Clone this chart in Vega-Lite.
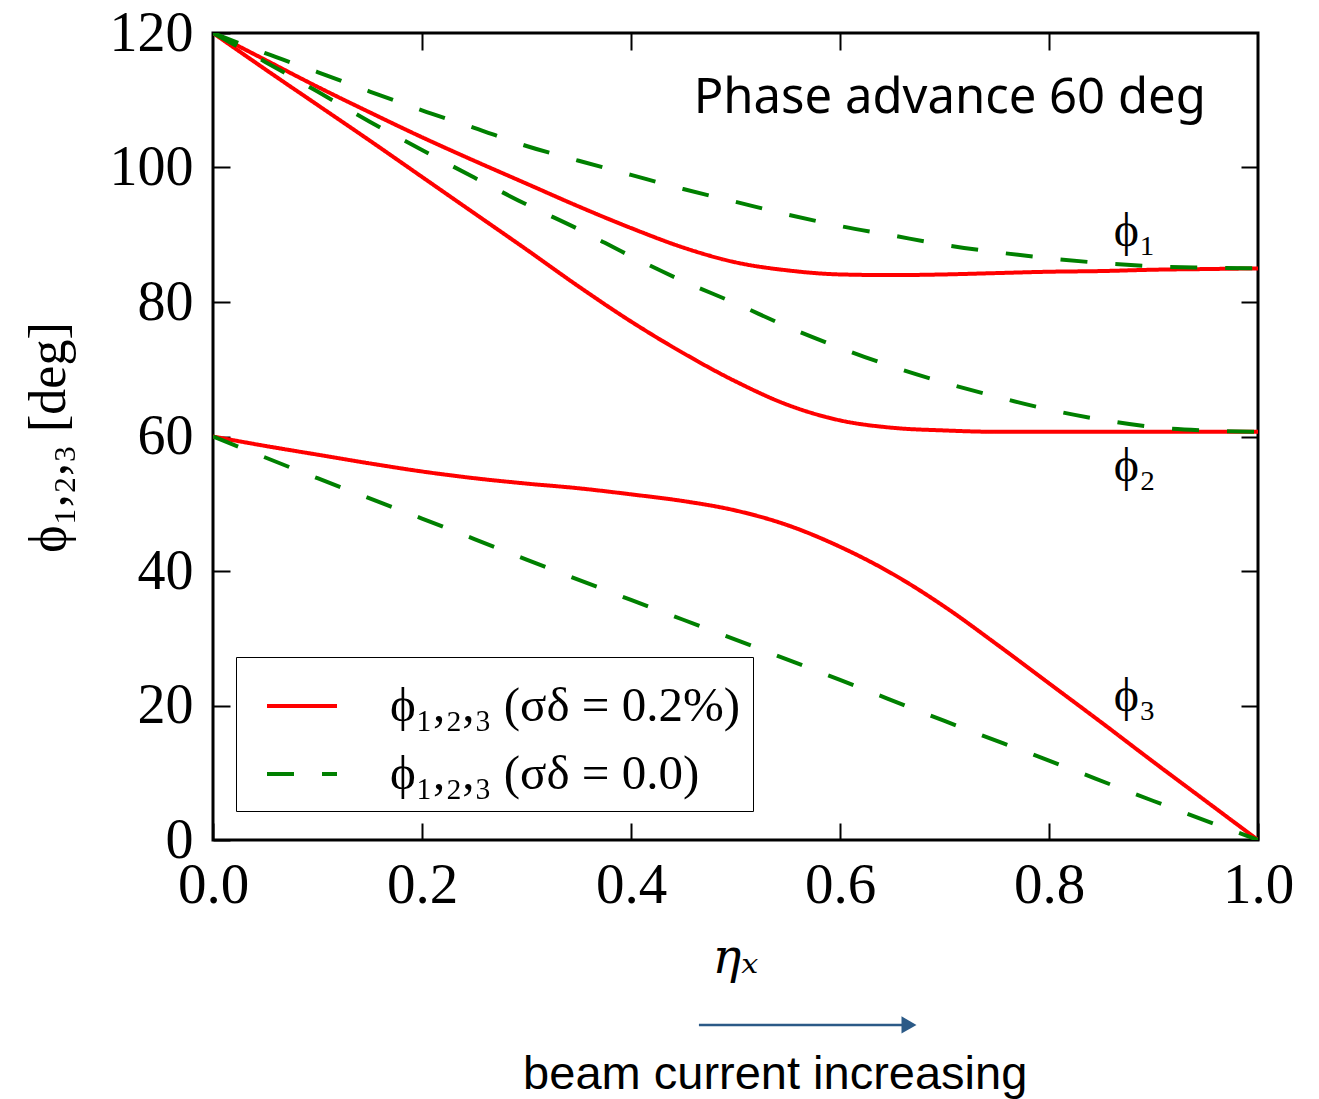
{
  "$schema": "https://vega.github.io/schema/vega-lite/v6.json",
  "width": 1045,
  "height": 807,
  "autosize": {"type": "none"},
  "padding": {"left": 213, "top": 33, "right": 61, "bottom": 259},
  "background": "white",
  "config": {
    "view": {"stroke": "black", "strokeWidth": 3},
    "axis": {"domain": false, "grid": false, "tickColor": "black", "tickWidth": 2, "tickSize": -17, "labelColor": "black", "titleColor": "black", "labelFlush": false, "labelOverlap": false, "labelBound": false}
  },
  "layer": [
    {
      "data": {"values": [
        {"eta": 0.0, "phi": 120, "curve": "r1", "series": "ϕ₁,₂,₃ (σδ = 0.2%)"},
        {"eta": 0.05, "phi": 116.0, "curve": "r1", "series": "ϕ₁,₂,₃ (σδ = 0.2%)"},
        {"eta": 0.1, "phi": 112.0, "curve": "r1", "series": "ϕ₁,₂,₃ (σδ = 0.2%)"},
        {"eta": 0.15, "phi": 108.2, "curve": "r1", "series": "ϕ₁,₂,₃ (σδ = 0.2%)"},
        {"eta": 0.2, "phi": 104.5, "curve": "r1", "series": "ϕ₁,₂,₃ (σδ = 0.2%)"},
        {"eta": 0.25, "phi": 101.0, "curve": "r1", "series": "ϕ₁,₂,₃ (σδ = 0.2%)"},
        {"eta": 0.3, "phi": 97.6, "curve": "r1", "series": "ϕ₁,₂,₃ (σδ = 0.2%)"},
        {"eta": 0.35, "phi": 94.2, "curve": "r1", "series": "ϕ₁,₂,₃ (σδ = 0.2%)"},
        {"eta": 0.4, "phi": 91.0, "curve": "r1", "series": "ϕ₁,₂,₃ (σδ = 0.2%)"},
        {"eta": 0.45, "phi": 88.1, "curve": "r1", "series": "ϕ₁,₂,₃ (σδ = 0.2%)"},
        {"eta": 0.5, "phi": 85.9, "curve": "r1", "series": "ϕ₁,₂,₃ (σδ = 0.2%)"},
        {"eta": 0.55, "phi": 84.7, "curve": "r1", "series": "ϕ₁,₂,₃ (σδ = 0.2%)"},
        {"eta": 0.6, "phi": 84.1, "curve": "r1", "series": "ϕ₁,₂,₃ (σδ = 0.2%)"},
        {"eta": 0.65, "phi": 84.0, "curve": "r1", "series": "ϕ₁,₂,₃ (σδ = 0.2%)"},
        {"eta": 0.7, "phi": 84.1, "curve": "r1", "series": "ϕ₁,₂,₃ (σδ = 0.2%)"},
        {"eta": 0.75, "phi": 84.3, "curve": "r1", "series": "ϕ₁,₂,₃ (σδ = 0.2%)"},
        {"eta": 0.8, "phi": 84.5, "curve": "r1", "series": "ϕ₁,₂,₃ (σδ = 0.2%)"},
        {"eta": 0.85, "phi": 84.6, "curve": "r1", "series": "ϕ₁,₂,₃ (σδ = 0.2%)"},
        {"eta": 0.9, "phi": 84.8, "curve": "r1", "series": "ϕ₁,₂,₃ (σδ = 0.2%)"},
        {"eta": 0.95, "phi": 84.9, "curve": "r1", "series": "ϕ₁,₂,₃ (σδ = 0.2%)"},
        {"eta": 1.0, "phi": 85.0, "curve": "r1", "series": "ϕ₁,₂,₃ (σδ = 0.2%)"},

        {"eta": 0.0, "phi": 120, "curve": "r2", "series": "ϕ₁,₂,₃ (σδ = 0.2%)"},
        {"eta": 0.05, "phi": 114.6, "curve": "r2", "series": "ϕ₁,₂,₃ (σδ = 0.2%)"},
        {"eta": 0.1, "phi": 109.3, "curve": "r2", "series": "ϕ₁,₂,₃ (σδ = 0.2%)"},
        {"eta": 0.15, "phi": 104.0, "curve": "r2", "series": "ϕ₁,₂,₃ (σδ = 0.2%)"},
        {"eta": 0.2, "phi": 98.6, "curve": "r2", "series": "ϕ₁,₂,₃ (σδ = 0.2%)"},
        {"eta": 0.25, "phi": 93.2, "curve": "r2", "series": "ϕ₁,₂,₃ (σδ = 0.2%)"},
        {"eta": 0.3, "phi": 87.8, "curve": "r2", "series": "ϕ₁,₂,₃ (σδ = 0.2%)"},
        {"eta": 0.35, "phi": 82.3, "curve": "r2", "series": "ϕ₁,₂,₃ (σδ = 0.2%)"},
        {"eta": 0.4, "phi": 77.1, "curve": "r2", "series": "ϕ₁,₂,₃ (σδ = 0.2%)"},
        {"eta": 0.45, "phi": 72.4, "curve": "r2", "series": "ϕ₁,₂,₃ (σδ = 0.2%)"},
        {"eta": 0.5, "phi": 68.2, "curve": "r2", "series": "ϕ₁,₂,₃ (σδ = 0.2%)"},
        {"eta": 0.55, "phi": 64.7, "curve": "r2", "series": "ϕ₁,₂,₃ (σδ = 0.2%)"},
        {"eta": 0.6, "phi": 62.4, "curve": "r2", "series": "ϕ₁,₂,₃ (σδ = 0.2%)"},
        {"eta": 0.65, "phi": 61.3, "curve": "r2", "series": "ϕ₁,₂,₃ (σδ = 0.2%)"},
        {"eta": 0.7, "phi": 60.9, "curve": "r2", "series": "ϕ₁,₂,₃ (σδ = 0.2%)"},
        {"eta": 0.75, "phi": 60.7, "curve": "r2", "series": "ϕ₁,₂,₃ (σδ = 0.2%)"},
        {"eta": 0.8, "phi": 60.7, "curve": "r2", "series": "ϕ₁,₂,₃ (σδ = 0.2%)"},
        {"eta": 0.9, "phi": 60.7, "curve": "r2", "series": "ϕ₁,₂,₃ (σδ = 0.2%)"},
        {"eta": 1.0, "phi": 60.7, "curve": "r2", "series": "ϕ₁,₂,₃ (σδ = 0.2%)"},

        {"eta": 0.0, "phi": 60.0, "curve": "r3", "series": "ϕ₁,₂,₃ (σδ = 0.2%)"},
        {"eta": 0.05, "phi": 58.6, "curve": "r3", "series": "ϕ₁,₂,₃ (σδ = 0.2%)"},
        {"eta": 0.1, "phi": 57.3, "curve": "r3", "series": "ϕ₁,₂,₃ (σδ = 0.2%)"},
        {"eta": 0.15, "phi": 56.0, "curve": "r3", "series": "ϕ₁,₂,₃ (σδ = 0.2%)"},
        {"eta": 0.2, "phi": 54.8, "curve": "r3", "series": "ϕ₁,₂,₃ (σδ = 0.2%)"},
        {"eta": 0.25, "phi": 53.8, "curve": "r3", "series": "ϕ₁,₂,₃ (σδ = 0.2%)"},
        {"eta": 0.3, "phi": 53.0, "curve": "r3", "series": "ϕ₁,₂,₃ (σδ = 0.2%)"},
        {"eta": 0.35, "phi": 52.3, "curve": "r3", "series": "ϕ₁,₂,₃ (σδ = 0.2%)"},
        {"eta": 0.4, "phi": 51.4, "curve": "r3", "series": "ϕ₁,₂,₃ (σδ = 0.2%)"},
        {"eta": 0.45, "phi": 50.4, "curve": "r3", "series": "ϕ₁,₂,₃ (σδ = 0.2%)"},
        {"eta": 0.5, "phi": 49.0, "curve": "r3", "series": "ϕ₁,₂,₃ (σδ = 0.2%)"},
        {"eta": 0.55, "phi": 46.8, "curve": "r3", "series": "ϕ₁,₂,₃ (σδ = 0.2%)"},
        {"eta": 0.6, "phi": 43.6, "curve": "r3", "series": "ϕ₁,₂,₃ (σδ = 0.2%)"},
        {"eta": 0.65, "phi": 39.6, "curve": "r3", "series": "ϕ₁,₂,₃ (σδ = 0.2%)"},
        {"eta": 0.7, "phi": 34.7, "curve": "r3", "series": "ϕ₁,₂,₃ (σδ = 0.2%)"},
        {"eta": 0.75, "phi": 29.1, "curve": "r3", "series": "ϕ₁,₂,₃ (σδ = 0.2%)"},
        {"eta": 0.8, "phi": 23.3, "curve": "r3", "series": "ϕ₁,₂,₃ (σδ = 0.2%)"},
        {"eta": 0.85, "phi": 17.5, "curve": "r3", "series": "ϕ₁,₂,₃ (σδ = 0.2%)"},
        {"eta": 0.9, "phi": 11.6, "curve": "r3", "series": "ϕ₁,₂,₃ (σδ = 0.2%)"},
        {"eta": 0.95, "phi": 5.8, "curve": "r3", "series": "ϕ₁,₂,₃ (σδ = 0.2%)"},
        {"eta": 1.0, "phi": 0.0, "curve": "r3", "series": "ϕ₁,₂,₃ (σδ = 0.2%)"},

        {"eta": 0.0, "phi": 120, "curve": "g1", "series": "ϕ₁,₂,₃ (σδ = 0.0)"},
        {"eta": 0.05, "phi": 117.0, "curve": "g1", "series": "ϕ₁,₂,₃ (σδ = 0.0)"},
        {"eta": 0.1, "phi": 114.2, "curve": "g1", "series": "ϕ₁,₂,₃ (σδ = 0.0)"},
        {"eta": 0.15, "phi": 111.3, "curve": "g1", "series": "ϕ₁,₂,₃ (σδ = 0.0)"},
        {"eta": 0.2, "phi": 108.5, "curve": "g1", "series": "ϕ₁,₂,₃ (σδ = 0.0)"},
        {"eta": 0.25, "phi": 105.9, "curve": "g1", "series": "ϕ₁,₂,₃ (σδ = 0.0)"},
        {"eta": 0.3, "phi": 103.2, "curve": "g1", "series": "ϕ₁,₂,₃ (σδ = 0.0)"},
        {"eta": 0.35, "phi": 101.0, "curve": "g1", "series": "ϕ₁,₂,₃ (σδ = 0.0)"},
        {"eta": 0.4, "phi": 98.9, "curve": "g1", "series": "ϕ₁,₂,₃ (σδ = 0.0)"},
        {"eta": 0.45, "phi": 96.8, "curve": "g1", "series": "ϕ₁,₂,₃ (σδ = 0.0)"},
        {"eta": 0.5, "phi": 94.9, "curve": "g1", "series": "ϕ₁,₂,₃ (σδ = 0.0)"},
        {"eta": 0.55, "phi": 93.0, "curve": "g1", "series": "ϕ₁,₂,₃ (σδ = 0.0)"},
        {"eta": 0.6, "phi": 91.3, "curve": "g1", "series": "ϕ₁,₂,₃ (σδ = 0.0)"},
        {"eta": 0.65, "phi": 89.9, "curve": "g1", "series": "ϕ₁,₂,₃ (σδ = 0.0)"},
        {"eta": 0.7, "phi": 88.5, "curve": "g1", "series": "ϕ₁,₂,₃ (σδ = 0.0)"},
        {"eta": 0.75, "phi": 87.4, "curve": "g1", "series": "ϕ₁,₂,₃ (σδ = 0.0)"},
        {"eta": 0.8, "phi": 86.5, "curve": "g1", "series": "ϕ₁,₂,₃ (σδ = 0.0)"},
        {"eta": 0.85, "phi": 85.8, "curve": "g1", "series": "ϕ₁,₂,₃ (σδ = 0.0)"},
        {"eta": 0.9, "phi": 85.3, "curve": "g1", "series": "ϕ₁,₂,₃ (σδ = 0.0)"},
        {"eta": 0.95, "phi": 85.1, "curve": "g1", "series": "ϕ₁,₂,₃ (σδ = 0.0)"},
        {"eta": 1.0, "phi": 85.0, "curve": "g1", "series": "ϕ₁,₂,₃ (σδ = 0.0)"},

        {"eta": 0.0, "phi": 120, "curve": "g2", "series": "ϕ₁,₂,₃ (σδ = 0.0)"},
        {"eta": 0.05, "phi": 115.7, "curve": "g2", "series": "ϕ₁,₂,₃ (σδ = 0.0)"},
        {"eta": 0.1, "phi": 111.3, "curve": "g2", "series": "ϕ₁,₂,₃ (σδ = 0.0)"},
        {"eta": 0.15, "phi": 106.8, "curve": "g2", "series": "ϕ₁,₂,₃ (σδ = 0.0)"},
        {"eta": 0.2, "phi": 102.6, "curve": "g2", "series": "ϕ₁,₂,₃ (σδ = 0.0)"},
        {"eta": 0.25, "phi": 98.5, "curve": "g2", "series": "ϕ₁,₂,₃ (σδ = 0.0)"},
        {"eta": 0.3, "phi": 94.5, "curve": "g2", "series": "ϕ₁,₂,₃ (σδ = 0.0)"},
        {"eta": 0.35, "phi": 90.8, "curve": "g2", "series": "ϕ₁,₂,₃ (σδ = 0.0)"},
        {"eta": 0.4, "phi": 86.8, "curve": "g2", "series": "ϕ₁,₂,₃ (σδ = 0.0)"},
        {"eta": 0.45, "phi": 83.1, "curve": "g2", "series": "ϕ₁,₂,₃ (σδ = 0.0)"},
        {"eta": 0.5, "phi": 79.8, "curve": "g2", "series": "ϕ₁,₂,₃ (σδ = 0.0)"},
        {"eta": 0.55, "phi": 76.3, "curve": "g2", "series": "ϕ₁,₂,₃ (σδ = 0.0)"},
        {"eta": 0.6, "phi": 73.2, "curve": "g2", "series": "ϕ₁,₂,₃ (σδ = 0.0)"},
        {"eta": 0.65, "phi": 70.4, "curve": "g2", "series": "ϕ₁,₂,₃ (σδ = 0.0)"},
        {"eta": 0.7, "phi": 68.0, "curve": "g2", "series": "ϕ₁,₂,₃ (σδ = 0.0)"},
        {"eta": 0.75, "phi": 65.9, "curve": "g2", "series": "ϕ₁,₂,₃ (σδ = 0.0)"},
        {"eta": 0.8, "phi": 64.0, "curve": "g2", "series": "ϕ₁,₂,₃ (σδ = 0.0)"},
        {"eta": 0.85, "phi": 62.5, "curve": "g2", "series": "ϕ₁,₂,₃ (σδ = 0.0)"},
        {"eta": 0.9, "phi": 61.4, "curve": "g2", "series": "ϕ₁,₂,₃ (σδ = 0.0)"},
        {"eta": 0.95, "phi": 60.9, "curve": "g2", "series": "ϕ₁,₂,₃ (σδ = 0.0)"},
        {"eta": 1.0, "phi": 60.7, "curve": "g2", "series": "ϕ₁,₂,₃ (σδ = 0.0)"},

        {"eta": 0.0, "phi": 60.0, "curve": "g3", "series": "ϕ₁,₂,₃ (σδ = 0.0)"},
        {"eta": 0.1, "phi": 53.8, "curve": "g3", "series": "ϕ₁,₂,₃ (σδ = 0.0)"},
        {"eta": 0.2, "phi": 47.8, "curve": "g3", "series": "ϕ₁,₂,₃ (σδ = 0.0)"},
        {"eta": 0.3, "phi": 41.7, "curve": "g3", "series": "ϕ₁,₂,₃ (σδ = 0.0)"},
        {"eta": 0.4, "phi": 35.7, "curve": "g3", "series": "ϕ₁,₂,₃ (σδ = 0.0)"},
        {"eta": 0.5, "phi": 29.8, "curve": "g3", "series": "ϕ₁,₂,₃ (σδ = 0.0)"},
        {"eta": 0.6, "phi": 23.8, "curve": "g3", "series": "ϕ₁,₂,₃ (σδ = 0.0)"},
        {"eta": 0.7, "phi": 17.7, "curve": "g3", "series": "ϕ₁,₂,₃ (σδ = 0.0)"},
        {"eta": 0.8, "phi": 11.8, "curve": "g3", "series": "ϕ₁,₂,₃ (σδ = 0.0)"},
        {"eta": 0.9, "phi": 5.8, "curve": "g3", "series": "ϕ₁,₂,₃ (σδ = 0.0)"},
        {"eta": 1.0, "phi": 0.0, "curve": "g3", "series": "ϕ₁,₂,₃ (σδ = 0.0)"}
      ]},
      "mark": {"type": "line", "strokeWidth": 4, "clip": true, "interpolate": "monotone"},
      "encoding": {
        "x": {"field": "eta", "type": "quantitative", "scale": {"domain": [0, 1], "nice": false, "zero": false},
          "axis": {"orient": "bottom", "values": [0, 0.2, 0.4, 0.6, 0.8, 1.0], "format": ".1f",
            "labelFont": "Liberation Serif", "labelFontSize": 57, "labelPadding": 34,
            "title": "ηₓ", "titleFont": "DejaVu Serif", "titleFontSize": 48, "titleFontWeight": "normal", "titleFontStyle": "italic",
            "titleX": 522, "titleY": 118, "titleBaseline": "middle", "titleAlign": "center"}},
        "y": {"field": "phi", "type": "quantitative", "scale": {"domain": [0, 120], "nice": false, "zero": false},
          "axis": {"orient": "left", "values": [0, 20, 40, 60, 80, 100, 120],
            "labelFont": "Liberation Serif", "labelFontSize": 56, "labelPadding": 37,
            "title": "ϕ₁,₂,₃ [deg]", "titleFont": "Liberation Serif", "titleFontSize": 52, "titleFontWeight": "normal",
            "titleX": -165, "titleY": 404, "titleAngle": 270, "titleBaseline": "middle", "titleAlign": "center"}},
        "detail": {"field": "curve", "type": "nominal"},
        "color": {"field": "series", "type": "nominal",
          "scale": {"domain": ["ϕ₁,₂,₃ (σδ = 0.2%)", "ϕ₁,₂,₃ (σδ = 0.0)"], "range": ["#ff0000", "#008000"]},
          "legend": {"orient": "none", "legendX": 23, "legendY": 624, "title": null, "strokeColor": "black", "fillColor": "white",
            "padding": 12, "symbolType": "stroke", "symbolSize": 4900, "symbolStrokeWidth": 4, "symbolOffset": 17,
            "labelOffset": 51, "labelFont": "Liberation Serif", "labelFontSize": 49, "labelColor": "black", "labelLimit": 1000, "rowPadding": 6}},
        "strokeDash": {"field": "series", "type": "nominal",
          "scale": {"domain": ["ϕ₁,₂,₃ (σδ = 0.2%)", "ϕ₁,₂,₃ (σδ = 0.0)"], "range": [[1, 0], [27, 28]]},
          "legend": {"orient": "none", "legendX": 23, "legendY": 624, "title": null, "strokeColor": "black", "fillColor": "white",
            "padding": 12, "symbolType": "stroke", "symbolSize": 4900, "symbolStrokeWidth": 4, "symbolOffset": 17,
            "labelOffset": 51, "labelFont": "Liberation Serif", "labelFontSize": 49, "labelColor": "black", "labelLimit": 1000, "rowPadding": 6}}
      }
    },
    {
      "data": {"values": [
        {"eta": 0.882, "phi": 90.4, "label": "ϕ₁"},
        {"eta": 0.882, "phi": 55.5, "label": "ϕ₂"},
        {"eta": 0.882, "phi": 21.3, "label": "ϕ₃"}
      ]},
      "mark": {"type": "text", "font": "Liberation Serif", "fontSize": 48, "align": "center", "baseline": "middle", "color": "black"},
      "encoding": {
        "x": {"field": "eta", "type": "quantitative", "scale": {"domain": [0, 1], "nice": false, "zero": false},
          "axis": {"orient": "top", "values": [0.2, 0.4, 0.6, 0.8], "labels": false, "title": null}},
        "y": {"field": "phi", "type": "quantitative", "scale": {"domain": [0, 120], "nice": false, "zero": false},
          "axis": {"orient": "right", "values": [20, 40, 60, 80, 100], "labels": false, "title": null}},
        "text": {"field": "label", "type": "nominal"}
      }
    },
    {
      "data": {"values": [{"eta": 0.705, "phi": 108.1, "label": "Phase advance 60 deg"}]},
      "mark": {"type": "text", "font": "Noto Sans", "fontSize": 49, "align": "center", "baseline": "alphabetic", "color": "black"},
      "encoding": {
        "x": {"field": "eta", "type": "quantitative", "scale": {"domain": [0, 1]}, "axis": null},
        "y": {"field": "phi", "type": "quantitative", "scale": {"domain": [0, 120]}, "axis": null},
        "text": {"field": "label", "type": "nominal"}
      }
    },
    {
      "data": {"values": [{"eta": 0.465, "eta2": 0.662, "phi": -27.5}]},
      "mark": {"type": "rule", "strokeWidth": 2.5, "color": "#2b5a87"},
      "encoding": {
        "x": {"field": "eta", "type": "quantitative", "scale": {"domain": [0, 1]}, "axis": null},
        "x2": {"field": "eta2"},
        "y": {"field": "phi", "type": "quantitative", "scale": {"domain": [0, 120]}, "axis": null}
      }
    },
    {
      "data": {"values": [{"eta": 0.666, "phi": -27.5}]},
      "mark": {"type": "point", "shape": "triangle-right", "size": 300, "filled": true, "color": "#2b5a87", "opacity": 1},
      "encoding": {
        "x": {"field": "eta", "type": "quantitative", "scale": {"domain": [0, 1]}, "axis": null},
        "y": {"field": "phi", "type": "quantitative", "scale": {"domain": [0, 120]}, "axis": null}
      }
    },
    {
      "data": {"values": [{"eta": 0.538, "phi": -37.0, "label": "beam current increasing"}]},
      "mark": {"type": "text", "font": "Liberation Sans", "fontSize": 47, "align": "center", "baseline": "alphabetic", "color": "black"},
      "encoding": {
        "x": {"field": "eta", "type": "quantitative", "scale": {"domain": [0, 1]}, "axis": null},
        "y": {"field": "phi", "type": "quantitative", "scale": {"domain": [0, 120]}, "axis": null},
        "text": {"field": "label", "type": "nominal"}
      }
    }
  ],
  "resolve": {"axis": {"x": "independent", "y": "independent"}}
}
